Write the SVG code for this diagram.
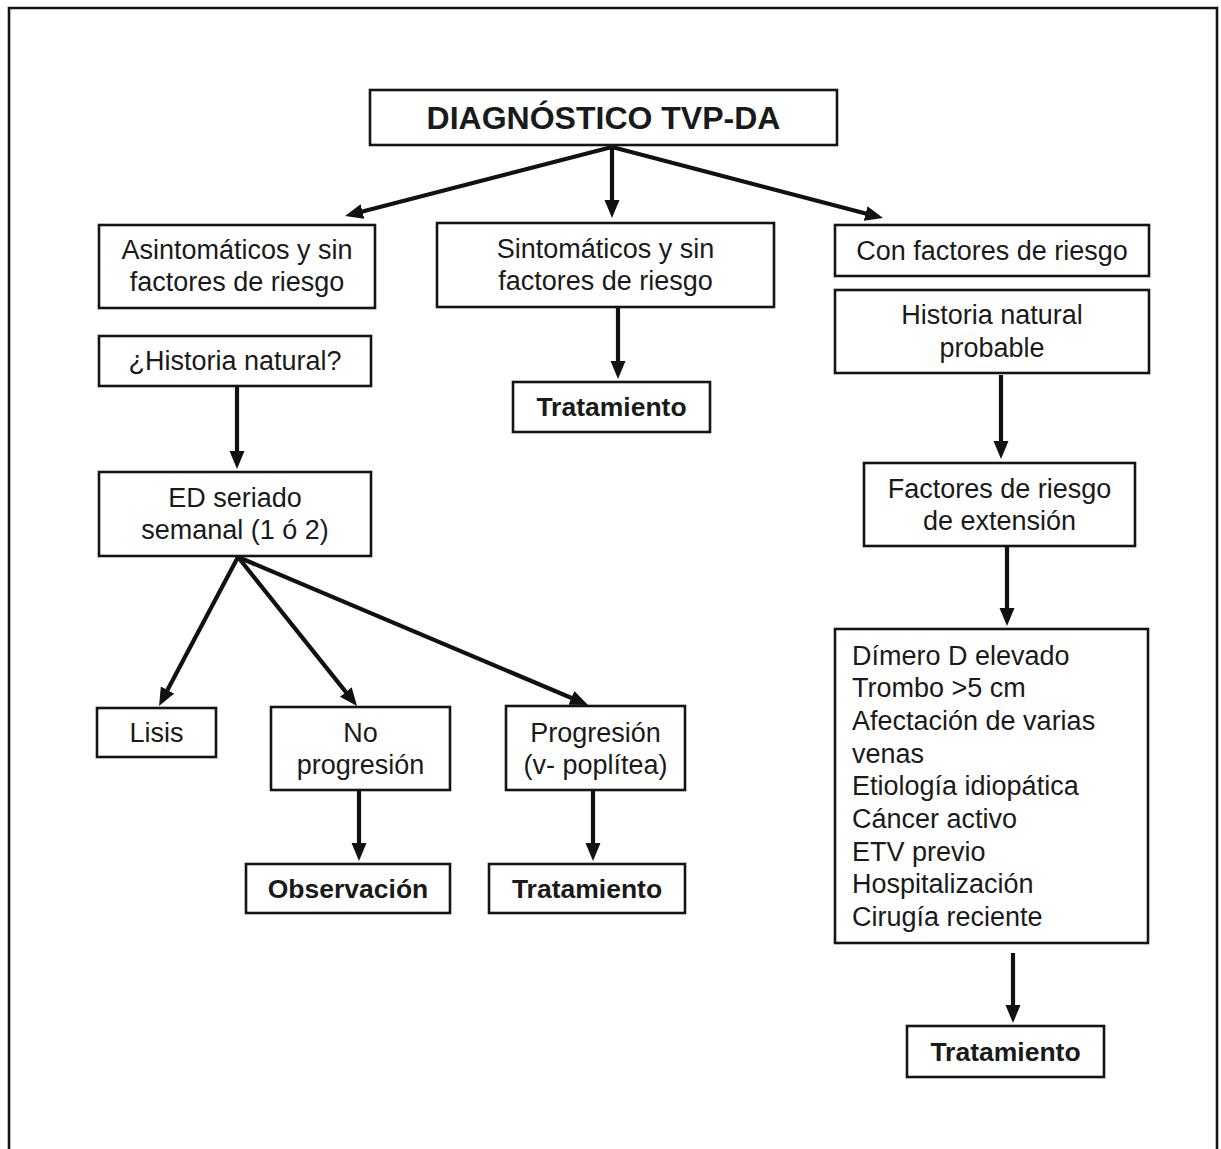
<svg xmlns="http://www.w3.org/2000/svg" width="1221" height="1149" viewBox="0 0 1221 1149">
  <defs>
    <style>
      .box { fill: #ffffff; stroke: #141414; stroke-width: 2.6; }
      .frame { fill: none; stroke: #141414; stroke-width: 2.6; }
      .t { font-family: "Liberation Sans", Arial, Helvetica, sans-serif; font-size: 27px; fill: #1a1a1a; text-anchor: middle; }
      .tl { text-anchor: start; }
      .b { font-weight: bold; font-size: 26.5px; }
      .title { font-size: 32px; }
      .edge { stroke: #111111; stroke-width: 4.2; fill: none; marker-end: url(#arrow); }
    </style>
    <marker id="arrow" markerUnits="userSpaceOnUse" markerWidth="20" markerHeight="16" refX="4" refY="7.5" orient="auto">
      <path d="M0,0 L18,7.5 L0,15 z" fill="#111111"/>
    </marker>
  </defs>

  <rect width="1221" height="1149" fill="#ffffff"/>

  <!-- outer frame (open at the bottom edge) -->
  <path class="frame" d="M9,1152 V8 H1217 V1152"/>

  <!-- connectors -->
  <g id="connectors">
    <line class="edge" x1="612" y1="147" x2="358.6" y2="212.5"/>
    <line class="edge" x1="612" y1="147" x2="612" y2="204"/>
    <line class="edge" x1="612" y1="147" x2="869.5" y2="214.5"/>

    <line class="edge" x1="237" y1="387" x2="237" y2="455"/>
    <line class="edge" x1="238" y1="557" x2="165.6" y2="693.6"/>
    <line class="edge" x1="238" y1="557" x2="348.3" y2="695.1"/>
    <line class="edge" x1="238" y1="557" x2="575.1" y2="699.5"/>
    <line class="edge" x1="359" y1="791" x2="359" y2="847"/>
    <line class="edge" x1="593" y1="791" x2="593" y2="847"/>

    <line class="edge" x1="618" y1="308" x2="618" y2="365"/>

    <line class="edge" x1="1001" y1="375" x2="1001" y2="445"/>
    <line class="edge" x1="1007" y1="547" x2="1007" y2="612"/>
    <line class="edge" x1="1013" y1="953" x2="1013" y2="1009"/>
  </g>

  <!-- root -->
  <g id="diagnostico">
    <rect class="box" x="370" y="90" width="467" height="55"/>
    <text class="t b title" x="603.5" y="129">DIAGNÓSTICO TVP-DA</text>
  </g>

  <!-- left branch -->
  <g id="asintomaticos">
    <rect class="box" x="99" y="225" width="276" height="83"/>
    <text class="t" x="237" y="259">Asintomáticos y sin</text>
    <text class="t" x="237" y="291">factores de riesgo</text>
  </g>
  <g id="historia-natural-q">
    <rect class="box" x="99" y="336" width="272" height="50"/>
    <text class="t" x="235" y="370">¿Historia natural?</text>
  </g>
  <g id="ed-seriado">
    <rect class="box" x="99" y="472" width="272" height="84"/>
    <text class="t" x="235" y="507">ED seriado</text>
    <text class="t" x="235" y="539">semanal (1 ó 2)</text>
  </g>
  <g id="lisis">
    <rect class="box" x="97" y="708" width="119" height="49"/>
    <text class="t" x="156.5" y="742">Lisis</text>
  </g>
  <g id="no-progresion">
    <rect class="box" x="271" y="707" width="179" height="83"/>
    <text class="t" x="360.5" y="742">No</text>
    <text class="t" x="360.5" y="774">progresión</text>
  </g>
  <g id="progresion">
    <rect class="box" x="506" y="706" width="179" height="84"/>
    <text class="t" x="595.5" y="742">Progresión</text>
    <text class="t" x="595.5" y="774">(v- poplítea)</text>
  </g>
  <g id="observacion">
    <rect class="box" x="246" y="864" width="204" height="49"/>
    <text class="t b" x="348" y="898">Observación</text>
  </g>
  <g id="tratamiento-progresion">
    <rect class="box" x="489" y="864" width="196" height="49"/>
    <text class="t b" x="587" y="898">Tratamiento</text>
  </g>

  <!-- middle branch -->
  <g id="sintomaticos">
    <rect class="box" x="437" y="223" width="337" height="84"/>
    <text class="t" x="605.5" y="258">Sintomáticos y sin</text>
    <text class="t" x="605.5" y="290">factores de riesgo</text>
  </g>
  <g id="tratamiento-sintomaticos">
    <rect class="box" x="513" y="382" width="197" height="50"/>
    <text class="t b" x="611.5" y="416">Tratamiento</text>
  </g>

  <!-- right branch -->
  <g id="con-factores">
    <rect class="box" x="835" y="225" width="314" height="51"/>
    <text class="t" x="992" y="260">Con factores de riesgo</text>
  </g>
  <g id="historia-natural-probable">
    <rect class="box" x="835" y="290" width="314" height="83"/>
    <text class="t" x="992" y="324">Historia natural</text>
    <text class="t" x="992" y="357">probable</text>
  </g>
  <g id="factores-extension">
    <rect class="box" x="864" y="463" width="271" height="83"/>
    <text class="t" x="999.5" y="498">Factores de riesgo</text>
    <text class="t" x="999.5" y="530">de extensión</text>
  </g>
  <g id="lista-factores">
    <rect class="box" x="835" y="629" width="313" height="314"/>
    <text class="t tl" x="852" y="665">Dímero D elevado</text>
    <text class="t tl" x="852" y="697">Trombo &gt;5 cm</text>
    <text class="t tl" x="852" y="730">Afectación de varias</text>
    <text class="t tl" x="852" y="763">venas</text>
    <text class="t tl" x="852" y="795">Etiología idiopática</text>
    <text class="t tl" x="852" y="828">Cáncer activo</text>
    <text class="t tl" x="852" y="861">ETV previo</text>
    <text class="t tl" x="852" y="893">Hospitalización</text>
    <text class="t tl" x="852" y="926">Cirugía reciente</text>
  </g>
  <g id="tratamiento-factores">
    <rect class="box" x="907" y="1026" width="197" height="51"/>
    <text class="t b" x="1005.5" y="1061">Tratamiento</text>
  </g>
</svg>
